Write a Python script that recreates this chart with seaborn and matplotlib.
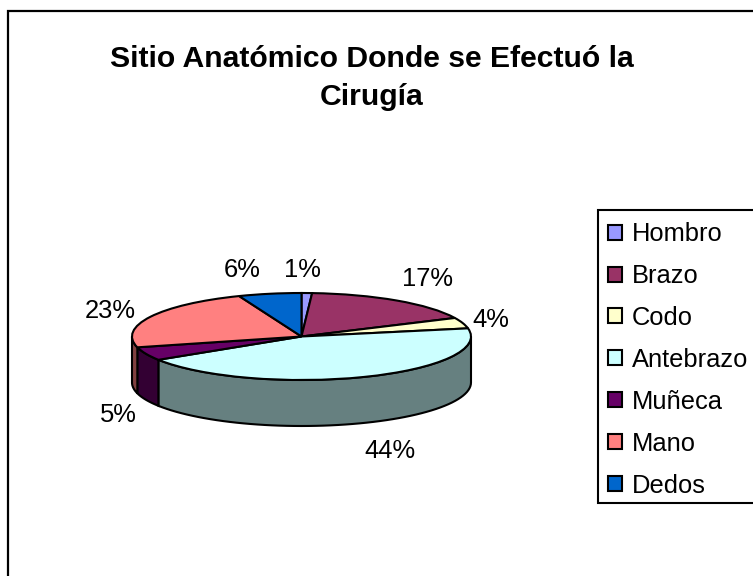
import numpy as np
import seaborn as sns
from matplotlib import pyplot as plt
from matplotlib.patches import Rectangle

categories = ["Hombro", "Brazo", "Codo", "Antebrazo", "Muñeca", "Mano", "Dedos"]
values = [1, 17, 4, 44, 5, 23, 6]
colors = ["#9999FF", "#993366", "#FFFFCC", "#CCFFFF", "#660066", "#FF8080", "#0066CC"]
title = "Sitio Anatómico Donde se Efectuó la\nCirugía"

W, H = 753, 576
# pixel geometry of the tilted pie
cx, cy, rx, ry, depth = 301.5, 336.5, 169.5, 43.5, 46
label_pos = [(302, 270), (428, 279), (491, 320), (390, 451), (118, 415), (110, 311), (242, 270)]

sns.set_theme(style="white")
plt.rcParams["font.family"] = ["Liberation Sans", "DejaVu Sans"]
palette = sns.color_palette(colors)

fig = plt.figure(figsize=(W / 100, H / 100), dpi=100, facecolor="white")

# background axes in pixels, used for the frames and text placement
bg = fig.add_axes([0, 0, 1, 1])
bg.set_xlim(0, W)
bg.set_ylim(H, 0)
bg.axis("off")
bg.add_patch(Rectangle((8, 11), W + 20, H + 20, fc="white", ec="black", lw=1.6))
bg.add_patch(Rectangle((598, 210), W, 293, fc="white", ec="black", lw=1.5))
bg.text(372, 78, title, ha="center", va="center", fontsize=21.7, fontweight="bold",
        color="black", linespacing=1.44)

# pie axes stretched so the circle becomes a flat ellipse
d = depth / ry
ax = fig.add_axes([(cx - rx) / W, 1 - (cy + ry + depth) / H, 2 * rx / W, (2 * ry + depth) / H])
wedges, _, autotexts = ax.pie(
    values,
    colors=palette,
    startangle=90,
    counterclock=False,
    autopct=lambda p: f"{p:.0f}%",
    wedgeprops={"edgecolor": "black", "linewidth": 1.5, "zorder": 5},
)
ax.set_aspect("auto")
ax.set_xlim(-1, 1)
ax.set_ylim(-1 - d, 1)

for txt, pos in zip(autotexts, label_pos):
    txt.set_transform(bg.transData)
    txt.set_position(pos)
    txt.set_fontsize(18.4)
    txt.set_color("black")
    txt.set_ha("center")
    txt.set_va("center")
    txt.set_zorder(10)

# side wall, only the front half of the ellipse (-180..0 degrees) shows
edges = 90 - 360 * np.cumsum([0] + values) / sum(values)
for start, end, color in zip(edges[:-1], edges[1:], palette):
    a0, a1 = max(end, -180), min(start, 0)
    if a1 <= a0:
        continue
    t = np.radians(np.linspace(a0, a1, 60))
    xs = np.r_[np.cos(t), np.cos(t)[::-1]]
    ys = np.r_[np.sin(t), np.sin(t)[::-1] - d]
    shade = tuple(c * 0.5 for c in color)
    ax.fill(xs, ys, facecolor=shade, edgecolor="black", linewidth=1.5, zorder=2, clip_on=False)

leg = fig.legend(
    wedges,
    categories,
    loc="upper left",
    bbox_to_anchor=(598 / W, 1 - 212 / H),
    borderaxespad=0,
    fontsize=18.4,
    frameon=False,
    borderpad=0.4,
    handlelength=0.52,
    handleheight=0.52,
    handletextpad=0.4,
    labelspacing=0.70,
)
for text in leg.get_texts():
    text.set_color("black")

fig.savefig("out.png", dpi=100)
